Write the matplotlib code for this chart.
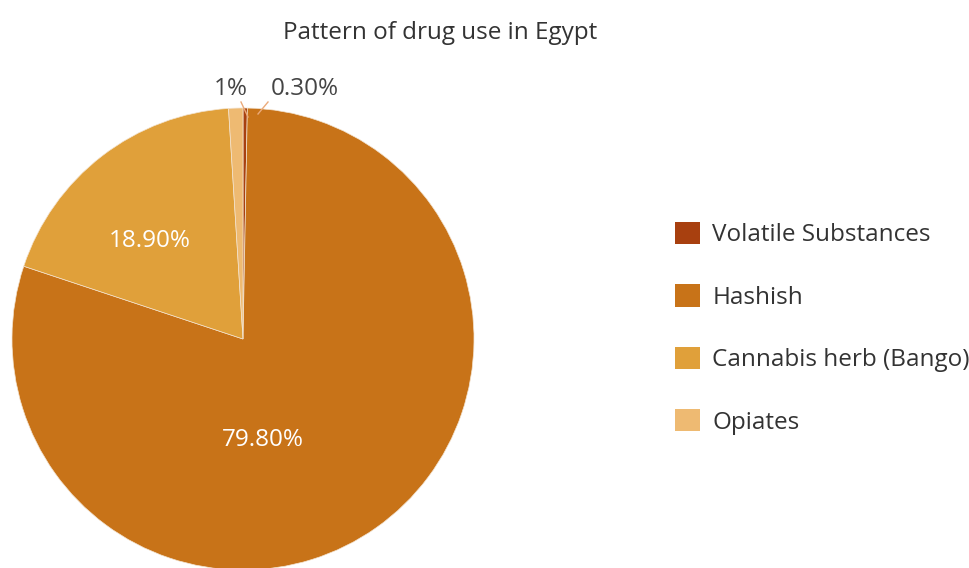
import matplotlib.pyplot as plt
from matplotlib.patches import Patch

plt.rcParams['font.family'] = ['Open Sans', 'DejaVu Sans']

categories = ['Volatile Substances', 'Hashish', 'Cannabis herb (Bango)', 'Opiates']
shares = [0.3, 79.8, 18.9, 1.0]
share_labels = ['0.30%', '79.80%', '18.90%', '1%']
colors = ['#A8400F', '#C87318', '#E0A03A', '#EEBA72']

W, H = 970, 568
fig = plt.figure(figsize=(W / 100, H / 100), dpi=100)
ax = fig.add_axes([0, 0, 1, 1])

wedges, _ = ax.pie(shares, colors=colors, startangle=90, counterclock=False,
                   center=(243, H - 339), radius=231, frame=True,
                   wedgeprops=dict(linewidth=0.5, edgecolor='#F3E3CF'))
ax.set_xlim(0, W)
ax.set_ylim(0, H)
ax.set_aspect('equal')
ax.axis('off')

fs = 17.5
# inside labels
ax.text(263, H - 440, share_labels[1], color='white', fontsize=fs,
        ha='center', va='center')
ax.text(150, H - 241, share_labels[2], color='white', fontsize=fs,
        ha='center', va='center')

# outside labels with leader lines
lead = '#EBAA7A'
ax.plot([241, 248], [H - 102, H - 117], color=lead, lw=1)
ax.plot([268, 258], [H - 102, H - 114], color=lead, lw=1)
ax.text(231, H - 89, share_labels[3], color='#444444', fontsize=fs,
        ha='center', va='center')
ax.text(305, H - 89, share_labels[0], color='#444444', fontsize=fs,
        ha='center', va='center')

fig.text(440 / W, 1 - 33 / H, 'Pattern of drug use in Egypt', color='#333333',
         fontsize=fs, ha='center', va='center')

handles = [Patch(facecolor=c, edgecolor='none') for c in colors]
fig.legend(handles, categories, loc='upper left',
           bbox_to_anchor=(675 / W, 1 - 222 / H), frameon=False,
           fontsize=fs, handlelength=1.03, handleheight=1.03,
           handletextpad=0.5, labelspacing=1.52, labelcolor='#333333',
           borderpad=0, borderaxespad=0)

fig.savefig('out.png', dpi=100)
